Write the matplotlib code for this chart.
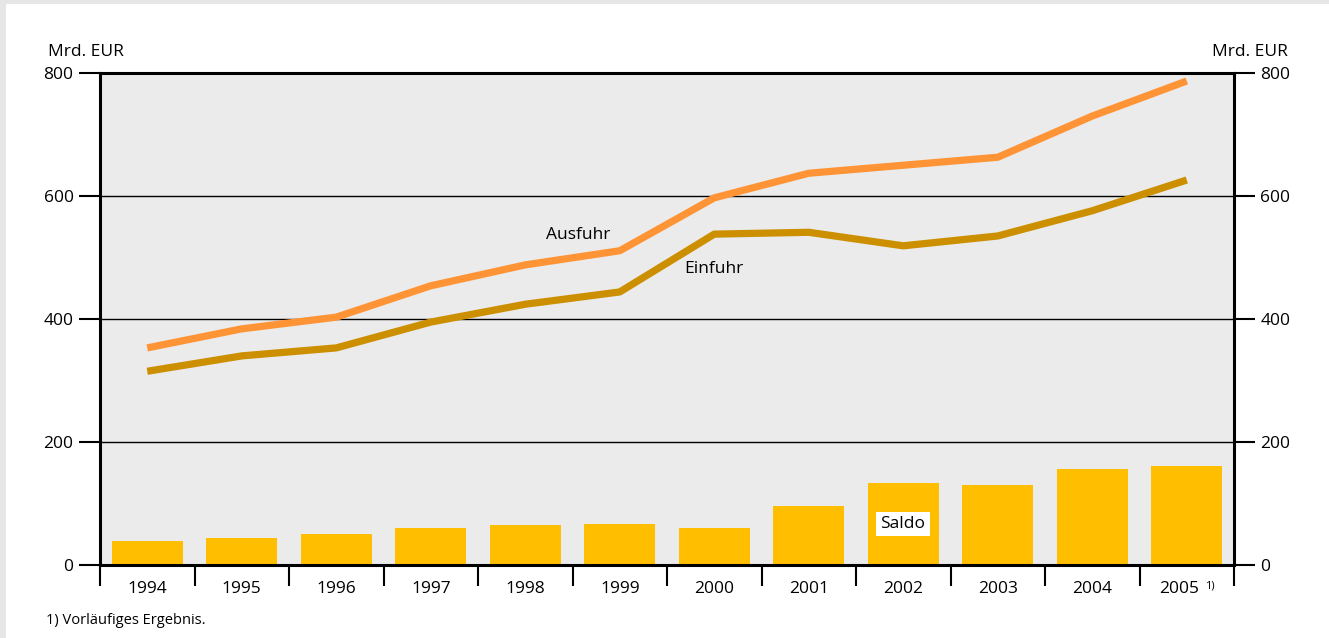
import numpy as np
import matplotlib
matplotlib.use("Agg")
import matplotlib.pyplot as plt
from matplotlib.patches import Rectangle

plt.rcParams['font.family'] = ['Open Sans', 'DejaVu Sans']

jahre = ['1994', '1995', '1996', '1997', '1998', '1999', '2000', '2001', '2002', '2003', '2004', '2005']
ausfuhr = [353, 384, 403, 454, 488, 511, 597, 637, 650, 663, 730, 787]
einfuhr = [315, 340, 353, 395, 424, 444, 538, 541, 519, 535, 576, 626]
saldo = [39, 44, 50, 60, 65, 67, 60, 96, 133, 130, 156, 161]
y_ticks = [0, 200, 400, 600, 800]

fig = plt.figure(figsize=(13.29, 6.38), dpi=100)
fig.patch.set_facecolor('#e6e6e6')
# weisse Karte innerhalb des grauen Rahmens
fig.patches.append(Rectangle((6 / 1329, 0), 1 - 6 / 1329, 1 - 4 / 638, transform=fig.transFigure,
                             facecolor='white', edgecolor='none', zorder=-10))

ax = fig.add_axes([100 / 1329, 1 - 565 / 638, 1134 / 1329, 492 / 638])
ax.set_facecolor('#ebebeb')

x = np.arange(len(jahre))
ax.bar(x, saldo, width=0.75, color='#ffbe00', zorder=2)
ax.plot(x, ausfuhr, color='#ff9436', lw=5.2, solid_capstyle='butt', zorder=4)
ax.plot(x, einfuhr, color='#cc8f00', lw=5.2, solid_capstyle='butt', zorder=4)

for v in y_ticks[1:-1]:
    ax.axhline(v, color='black', lw=1.0, zorder=3)

ax.set_xlim(-0.5, len(jahre) - 0.5)
ax.set_ylim(0, 800)

ax.set_yticks(y_ticks)
ax.tick_params(axis='y', which='both', left=True, right=True, labelleft=True, labelright=True,
               length=15, width=1.5, direction='out', labelsize=12.5, pad=4)

ax.set_xticks(np.arange(len(jahre) + 1) - 0.5)
ax.set_xticklabels([])
ax.tick_params(axis='x', length=15, width=1.5, direction='out')
for i, j in enumerate(jahre):
    # letztes Jahr etwas nach links, wegen Fussnotenzeichen
    xi = i - 0.08 if i == len(jahre) - 1 else i
    ax.text(xi, -39, j, ha='center', va='center', fontsize=12.5)
ax.text(11.19, -34, '1)', ha='left', va='center', fontsize=8, clip_on=False)

for s in ax.spines.values():
    s.set_linewidth(2.2)
    s.set_color('black')

ax.text(578 / 1329, 1 - 235 / 638, 'Ausfuhr', transform=fig.transFigure, ha='center', va='center', fontsize=12.5)
ax.text(714 / 1329, 1 - 269 / 638, 'Einfuhr', transform=fig.transFigure, ha='center', va='center', fontsize=12.5)
ax.text(903 / 1329, 1 - 524 / 638, 'Saldo', transform=fig.transFigure, ha='center', va='center', fontsize=12.5,
        bbox=dict(facecolor='white', edgecolor='none', pad=3), zorder=5)

fig.text(48 / 1329, 1 - 52 / 638, 'Mrd. EUR', ha='left', va='center', fontsize=12.5)
fig.text(1288 / 1329, 1 - 52 / 638, 'Mrd. EUR', ha='right', va='center', fontsize=12.5)
fig.text(46 / 1329, 1 - 621 / 638, '1) Vorläufiges Ergebnis.', ha='left', va='center', fontsize=10.5)

fig.savefig('out.png', dpi=100, facecolor=fig.get_facecolor())
plt.close()
